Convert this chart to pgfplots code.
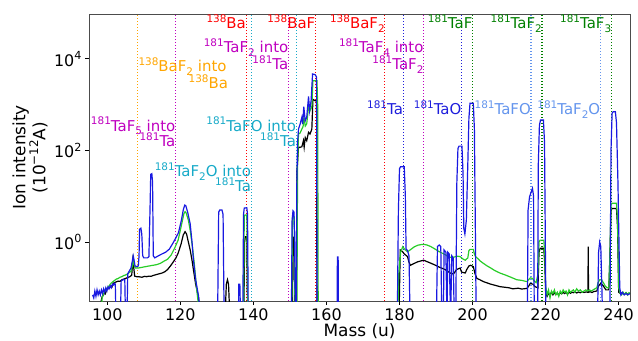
\documentclass[border=0pt]{standalone}
\usepackage{fontspec}
\setmainfont{DejaVu Sans}
\usepackage{graphicx}
\usepackage{pgfplots}
\pgfplotsset{compat=1.18}
\definecolor{cblue}{RGB}{25,25,225}
\definecolor{cgreen}{RGB}{40,205,40}
\definecolor{lorange}{RGB}{255,165,0}
\definecolor{lmag}{RGB}{191,0,191}
\definecolor{lred}{RGB}{255,0,0}
\definecolor{lcyan}{RGB}{23,170,200}
\definecolor{lblue}{RGB}{30,30,220}
\definecolor{lcorn}{RGB}{100,149,237}
\definecolor{lgreen}{RGB}{0,128,0}
\newcommand{\sups}[1]{\raisebox{0.42em}{\scalebox{0.7}{#1}}}
\newcommand{\subs}[1]{\raisebox{-0.22em}{\scalebox{0.7}{#1}}}
\newcommand{\af}{\fontsize{15}{18}\selectfont}
\newcommand{\tf}{\fontsize{16}{19}\selectfont}
\tikzset{lab/.style={font=\af, inner sep=0pt}}
\pgfplotsset{vl/.style={line width=1.1bp, dash pattern=on 1.1bp off 1.9bp, forget plot}}
\begin{document}
\begin{tikzpicture}
\useasboundingbox (-89bp,-40bp) rectangle (549bp,301bp);
\begin{axis}[
  scale only axis, width=541bp, height=287bp,
  xmin=95, xmax=243.1, ymode=log, ymin=0.0515, ymax=9.5e4,
  xtick={100,120,...,240}, ytick={1,100,10000},
  yticklabels={10\sups{0},10\sups{2},10\sups{4}},
  /pgf/number format/assume math mode=true,
  tick label style={font=\tf},
  tick align=outside, tick pos=left, major tick length=4bp,
  yminorticks=false, xminorticks=false,
  axis line style={gray!60!black, line width=0.8bp},
  every tick/.style={black, line width=0.8bp},
]
% vertical reference lines
\addplot[vl, lorange] coordinates {(108.2,0.01) (108.2,1e6)};
\addplot[vl, lmag] coordinates {(118.7,0.01) (118.7,1e6)};
\addplot[vl, lred] coordinates {(138,0.01) (138,1e6)};
\addplot[vl, lcyan] coordinates {(139.4,0.01) (139.4,1e6)};
\addplot[vl, lmag] coordinates {(149.6,0.01) (149.6,1e6)};
\addplot[vl, lcyan] coordinates {(151.7,0.01) (151.7,1e6)};
\addplot[vl, lred] coordinates {(157,0.01) (157,1e6)};
\addplot[vl, lred] coordinates {(176,0.01) (176,1e6)};
\addplot[vl, lblue] coordinates {(181,0.01) (181,1e6)};
\addplot[vl, lmag] coordinates {(186.6,0.01) (186.6,1e6)};
\addplot[vl, lblue] coordinates {(197,0.01) (197,1e6)};
\addplot[vl, lgreen] coordinates {(200,0.01) (200,1e6)};
\addplot[vl, lcorn] coordinates {(216,0.01) (216,1e6)};
\addplot[vl, lgreen] coordinates {(219,0.01) (219,1e6)};
\addplot[vl, lcorn] coordinates {(235,0.01) (235,1e6)};
\addplot[vl, lgreen] coordinates {(238,0.01) (238,1e6)};
% black
\addplot[black, line width=1.2bp] coordinates {
(98.3,0.05) (98.6,0.064) (99.0,0.07) (99.3,0.08) (99.5,0.075) (99.8,0.09) (100.2,0.095) (100.6,0.1) (101.0,0.11) (101.3,0.105)
(101.6,0.125) (102.0,0.13) (102.5,0.135) (103.0,0.14) (103.5,0.138) (103.9,0.148) (104.5,0.155) (105.0,0.16) (105.6,0.168)
(106.2,0.175) (106.7,0.19) (107.0,0.4) (107.2,0.3) (107.5,0.18) (108.0,0.175) (108.5,0.175) (109.5,0.17) (110.2,0.178) (110.7,0.175)
(111.5,0.18) (112.0,0.178) (112.5,0.185) (113.0,0.19) (114.0,0.2) (115.0,0.21) (115.8,0.225) (116.5,0.25) (117.3,0.3)
(118.1,0.37) (118.8,0.45) (119.4,0.57) (120.2,0.9) (120.8,1.42) (121.3,1.68) (121.7,1.5) (122.2,1.0) (122.7,0.67)
(123.2,0.4) (123.6,0.245) (124.2,0.12) (125.0,0.06) (125.3,0.03) (132.3,0.03) (132.6,0.12) (132.9,0.15) (133.2,0.12)
(133.5,0.03) (137.4,0.03) (137.6,1.0) (137.8,1.3) (138.2,1.3) (138.4,0.03) (150.6,0.03) (150.8,1.27) (151.1,1.27)
(151.3,0.03) (151.8,0.03) (151.95,36) (152.35,117) (152.8,117) (153.27,120) (153.7,163) (153.9,117) (154.2,190)
(154.6,163) (155.1,248) (155.5,228) (156.0,290) (156.3,1300) (156.9,1217) (157.3,1217) (157.4,0.03)
(179.9,0.03) (180.2,0.67) (180.8,0.62) (181.3,0.55) (182.2,0.48) (182.6,0.36) (183.0,0.31) (184.0,0.34) (185.0,0.37)
(186.6,0.4) (188.0,0.36) (189.5,0.32) (191.0,0.28) (192.5,0.25) (194.3,0.2) (195.0,0.21) (195.6,0.25) (196.6,0.27)
(197.0,0.22) (198.0,0.21) (198.4,0.25) (199.0,0.3) (199.5,0.31) (200.2,0.29) (200.7,0.2) (201.2,0.16) (202.0,0.15)
(203.0,0.136) (205.0,0.12) (207.5,0.106) (210.0,0.1) (211.0,0.095) (212.5,0.098) (213.5,0.094) (214.9,0.097) (215.4,0.11) (215.8,0.125)
(216.5,0.12) (217.2,0.105) (217.9,0.1) (218.2,0.6) (218.5,0.73) (219.5,0.73) (219.8,0.3) (220.0,0.08)
(220.4,0.065) (220.8,0.075) (221.2,0.07) (221.6,0.08) (222.0,0.07) (222.4,0.078) (222.8,0.072) (223.2,0.076)
(223.6,0.07) (224.0,0.078) (224.4,0.074) (224.8,0.08) (225.2,0.075) (225.6,0.079) (226.0,0.073) (226.4,0.08)
(226.8,0.076) (227.2,0.08) (227.6,0.078) (228.0,0.082) (228.5,0.077) (229.0,0.081) (229.5,0.078) (230.0,0.082)
(230.5,0.079) (231.0,0.081) (231.6,0.08) (231.65,0.79) (231.75,0.08) (232.2,0.082) (232.7,0.079) (233.2,0.083)
(234.0,0.085) (234.5,0.11) (235.1,0.125) (235.8,0.11) (236.5,0.09) (237.3,0.09) (237.6,0.5) (237.9,5)
(238.2,5.4) (239.4,5.4) (239.7,2) (240.0,0.08) (240.5,0.075) (241.0,0.078) (241.5,0.073) (242.0,0.077) (242.5,0.074) (243.1,0.076)
};
% green
\addplot[cgreen, line width=1.2bp] coordinates {
(98.3,0.02) (98.6,0.06) (99.0,0.075) (99.5,0.09) (100.0,0.1) (100.5,0.11) (101.0,0.125) (101.5,0.135) (102.0,0.145)
(102.5,0.155) (103.0,0.16) (103.5,0.17) (104.0,0.175) (104.5,0.185) (105.0,0.19) (105.5,0.2) (106.0,0.215)
(106.5,0.23) (106.8,0.28) (107.1,0.44) (107.4,0.3) (107.7,0.27) (108.5,0.27) (109.5,0.28) (110.5,0.29)
(111.5,0.3) (112.5,0.31) (113.5,0.32) (114.5,0.34) (115.5,0.38) (116.5,0.42) (117.5,0.52) (118.5,0.75)
(119.4,1.1) (120.0,1.8) (120.6,3.0) (121.0,4.2) (121.3,4.6) (121.6,4.3) (122.2,3.0) (122.7,1.8) (123.3,0.8)
(123.8,0.35) (124.5,0.09) (125.0,0.04) (125.3,0.02) (137.3,0.02) (137.5,3.5) (137.7,3.9) (138.2,3.9) (138.5,0.02)
(150.5,0.02) (150.7,3.5) (150.9,3.75) (151.2,3.5) (151.4,0.02) (151.9,0.02) (152.1,50) (152.35,228) (152.8,240)
(153.27,293) (153.6,330) (153.85,526) (154.2,340) (154.6,380) (155.1,870) (155.5,736) (156.0,900) (156.3,3325)
(156.9,3325) (157.4,3325) (157.6,1000) (157.75,0.02)
(179.5,0.02) (179.8,0.2) (180.3,0.6) (180.9,0.79) (181.5,0.68) (182.2,0.61) (183.0,0.68) (184.0,0.78) (185.0,0.85)
(186.0,0.88) (186.6,0.89) (187.5,0.86) (188.5,0.8) (189.5,0.72) (190.5,0.64) (191.5,0.58) (192.5,0.53) (193.5,0.47)
(194.3,0.46) (195.0,0.47) (195.8,0.49) (196.6,0.48) (197.3,0.43) (198.0,0.4) (198.7,0.45) (199.0,0.65) (199.3,0.69)
(200.2,0.69) (200.5,0.55) (200.8,0.48) (201.5,0.43) (202.0,0.39) (203.0,0.34) (204.0,0.3) (205.0,0.27) (206.0,0.24)
(207.5,0.21) (209.0,0.19) (210.5,0.17) (212.1,0.15) (213.5,0.145) (214.9,0.136) (215.3,0.15) (215.8,0.165)
(216.4,0.16) (216.9,0.14) (217.4,0.13) (217.9,0.2) (218.2,1.0) (218.5,1.1) (219.5,1.1) (219.8,0.5) (220.0,0.106)
(220.4,0.07) (220.8,0.09) (221.2,0.06) (221.6,0.085) (222.0,0.075) (222.4,0.09) (222.8,0.07) (223.2,0.08)
(223.6,0.065) (224.0,0.085) (224.4,0.075) (224.8,0.09) (225.2,0.08) (225.6,0.085) (226.0,0.07) (226.4,0.09)
(226.8,0.08) (227.2,0.085) (227.6,0.09) (228.0,0.08) (228.5,0.095) (229.0,0.085) (229.5,0.09) (230.0,0.08)
(230.5,0.085) (231.0,0.09) (231.5,0.085) (232.0,0.09) (232.5,0.085) (233.0,0.09) (233.5,0.095) (234.0,0.1)
(234.4,0.13) (234.8,0.15) (235.3,0.148) (235.8,0.13) (236.3,0.11) (236.8,0.1) (237.3,0.1) (237.6,0.5) (237.9,6.5)
(238.2,7.0) (239.4,7.0) (239.7,3) (240.0,0.1) (240.4,0.077) (240.8,0.07) (241.2,0.08) (241.6,0.072) (242.0,0.079)
(242.4,0.07) (242.8,0.078) (243.1,0.075)
};
% blue
\addplot[cblue, line width=1.2bp] coordinates {
(96.0,0.07) (96.3,0.06) (96.6,0.085) (96.9,0.065) (97.2,0.09) (97.5,0.07) (97.8,0.085) (98.1,0.07) (98.4,0.09)
(98.7,0.075) (99.0,0.095) (99.3,0.08) (99.6,0.1) (99.9,0.085) (100.2,0.105) (100.5,0.095) (100.8,0.11) (101.1,0.1)
(101.4,0.12) (101.7,0.115) (102.0,0.125) (102.2,0.12) (102.4,0.02) (103.6,0.02) (103.8,0.14) (104.3,0.15)
(104.8,0.15) (105.0,0.02) (105.4,0.02) (105.6,0.2) (106.0,0.23) (106.5,0.27) (106.9,0.4) (107.1,0.5) (107.3,0.42)
(107.6,0.3) (108.0,0.29) (108.5,0.3) (108.7,0.5) (108.85,1.9) (109.2,2.0) (109.45,1.5) (109.7,0.5) (110.0,0.45)
(111.0,0.45) (111.4,0.48) (111.7,5) (111.9,30) (112.2,31) (112.4,20) (112.6,0.5) (113.0,0.45) (114.0,0.5)
(115.0,0.55) (116.0,0.6) (117.0,0.7) (118.0,0.95) (118.7,1.2) (119.5,1.6) (120.3,3.0) (120.8,5.0) (121.2,6.4)
(121.5,6.2) (122.0,4.5) (122.7,2.5) (123.2,1.0) (123.6,0.4) (124.2,0.15) (125.0,0.065) (125.5,0.02)
(130.2,0.02) (130.5,4.5) (130.8,5.0) (131.4,5.0) (131.7,4.0) (132.0,0.02) (135.9,0.02) (136.0,0.12) (136.3,0.12)
(136.5,0.02) (137.1,0.02) (137.3,4.0) (137.5,5.5) (138.2,5.6) (138.4,4.0) (138.6,0.02)
(150.4,0.02) (150.6,3.0) (150.85,4.8) (151.1,4.5) (151.3,1.0) (151.5,0.02) (151.7,0.02) (151.9,20) (152.1,150)
(152.35,293) (152.8,377) (153.27,526) (153.5,377) (153.8,900) (154.2,445) (154.6,526) (155.1,1500) (155.4,736)
(155.8,1217) (156.2,4660) (156.9,4500) (157.3,4000) (157.45,0.02)
(162.9,0.02) (163.0,0.47) (163.2,0.47) (163.3,0.02) (179.4,0.02) (179.7,5) (180.0,40) (180.3,44) (181.3,44)
(181.6,10) (181.8,0.7) (182.2,0.65) (182.6,0.5) (182.9,0.02) (190.1,0.02) (190.4,0.8) (190.9,0.86) (191.3,0.8)
(191.6,0.02) (192.0,0.02) (192.2,0.67) (192.7,0.6) (193.0,0.02) (193.2,0.6) (193.6,0.55) (194.0,0.02) (194.3,0.5)
(194.7,0.45) (195.0,0.02) (195.4,0.02) (195.7,20) (196.0,110) (196.3,124) (197.1,124) (197.4,30) (197.6,2)
(197.9,1.5) (198.3,3) (198.7,50) (199.0,500) (199.3,1070) (200.2,1070) (200.5,300) (200.8,1) (201.0,0.02)
(215.0,0.02) (215.2,5) (215.6,9.7) (216.0,12) (216.4,14.8) (216.7,10) (216.9,0.02) (217.8,0.02) (218.0,50)
(218.3,350) (218.6,460) (219.4,460) (219.7,150) (219.95,0.5) (220.1,0.02) (234.2,0.02) (234.5,0.6) (234.8,1.0)
(235.1,0.8) (235.4,0.1) (235.6,0.02) (237.6,0.02) (237.9,100) (238.2,650) (238.5,700) (239.1,700) (239.4,400)
(239.8,20) (240.3,0.1) (240.6,0.07) (241.0,0.08) (241.5,0.07) (242.0,0.075) (242.5,0.07) (243.1,0.075)
};
% annotations
\node[lab, lred, anchor=base east] at (axis cs:138,44770) {\sups{138}Ba};
\node[lab, lred, anchor=base east] at (axis cs:157,44770) {\sups{138}BaF};
\node[lab, lred, anchor=base east] at (axis cs:176,44770) {\sups{138}BaF\subs{2}};
\node[lab, lgreen, anchor=base east] at (axis cs:200,44770) {\sups{181}TaF};
\node[lab, lgreen, anchor=base east] at (axis cs:219,44770) {\sups{181}TaF\subs{2}};
\node[lab, lgreen, anchor=base east] at (axis cs:238,44770) {\sups{181}TaF\subs{3}};
\node[lab, lmag, anchor=base east] at (axis cs:149.6,13390) {\sups{181}TaF\subs{2} into};
\node[lab, lmag, anchor=base east] at (axis cs:149.6,5690) {\sups{181}Ta};
\node[lab, lmag, anchor=base east] at (axis cs:186.6,13390) {\sups{181}TaF\subs{4} into};
\node[lab, lmag, anchor=base east] at (axis cs:186.6,5690) {\sups{181}TaF\subs{2}};
\node[lab, lorange, anchor=base west] at (axis cs:108.5,5150) {\sups{138}BaF\subs{2} into};
\node[lab, lorange, anchor=base east] at (axis cs:133.1,2191) {\sups{138}Ba};
\node[lab, lmag, anchor=base east] at (axis cs:118.7,265) {\sups{181}TaF\subs{5} into};
\node[lab, lmag, anchor=base east] at (axis cs:118.7,118.6) {\sups{181}Ta};
\node[lab, lcyan, anchor=base east] at (axis cs:151.7,265) {\sups{181}TaFO into};
\node[lab, lcyan, anchor=base east] at (axis cs:151.7,118.6) {\sups{181}Ta};
\node[lab, lcyan, anchor=base east] at (axis cs:139.4,26.3) {\sups{181}TaF\subs{2}O into};
\node[lab, lcyan, anchor=base east] at (axis cs:139.4,12.4) {\sups{181}Ta};
\node[lab, lblue, anchor=base east] at (axis cs:181,593) {\sups{181}Ta};
\node[lab, lblue, anchor=base east] at (axis cs:197,593) {\sups{181}TaO};
\node[lab, lcorn, anchor=base east] at (axis cs:216,593) {\sups{181}TaFO};
\node[lab, lcorn, anchor=base east] at (axis cs:235,593) {\sups{181}TaF\subs{2}O};
\end{axis}
\node[rotate=90, align=center, font=\fontsize{17}{20}\selectfont] at (-59bp,143.5bp) {Ion intensity\\(10\sups{−12}A)};
\node[font=\fontsize{17}{20}\selectfont] at (270.5bp,-30bp) {Mass (u)};
\end{tikzpicture}
\end{document}
